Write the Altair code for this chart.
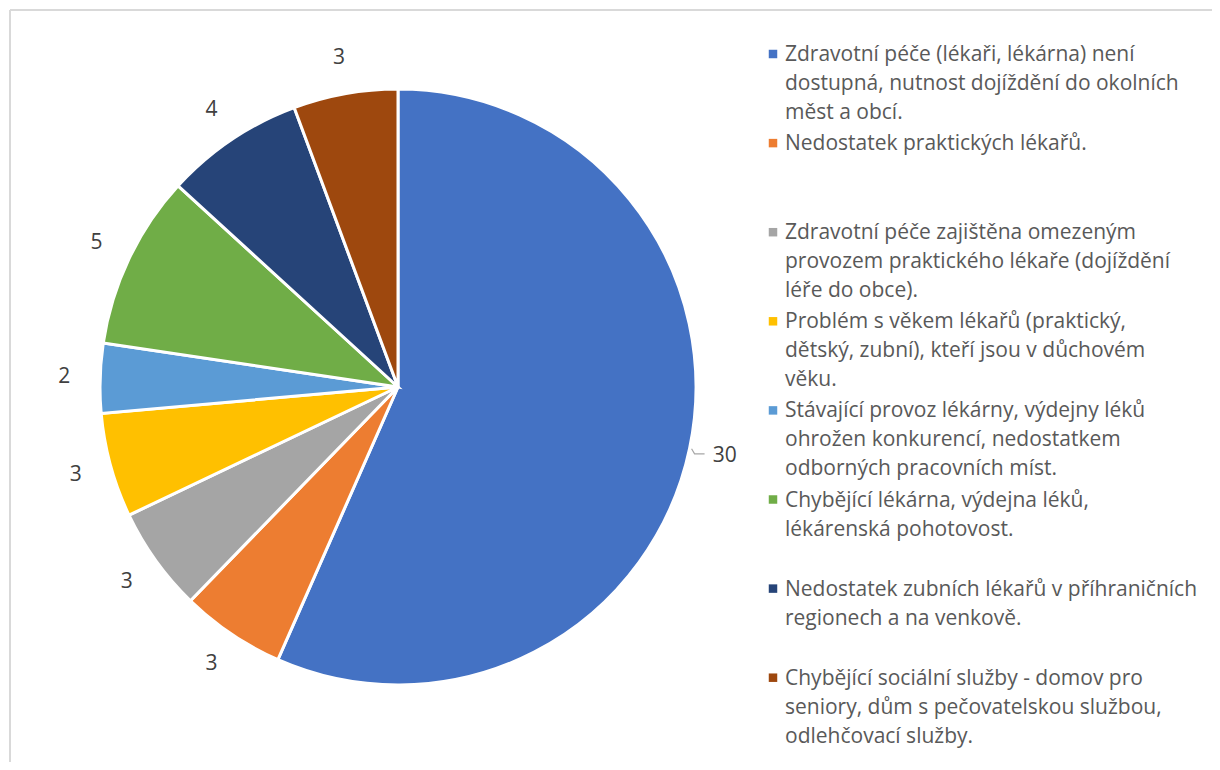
import altair as alt
import pandas as pd
import math

categories = [
    "Zdravotní péče (lékaři, lékárna) není dostupná, nutnost dojíždění do okolních měst a obcí.",
    "Nedostatek praktických lékařů.",
    "Zdravotní péče zajištěna omezeným provozem praktického lékaře (dojíždění léře do obce).",
    "Problém s věkem lékařů (praktický, dětský, zubní), kteří jsou v důchovém věku.",
    "Stávající provoz lékárny, výdejny léků ohrožen konkurencí, nedostatkem odborných pracovních míst.",
    "Chybějící lékárna, výdejna léků, lékárenská pohotovost.",
    "Nedostatek zubních lékařů v příhraničních regionech a na venkově.",
    "Chybějící sociální služby - domov pro seniory, dům s pečovatelskou službou, odlehčovací služby.",
]
values = [30, 3, 3, 3, 2, 5, 4, 3]
legend_lines = [
    ["Zdravotní péče (lékaři, lékárna) není", "dostupná, nutnost dojíždění do okolních", "měst a obcí."],
    ["Nedostatek praktických lékařů."],
    ["Zdravotní péče zajištěna omezeným", "provozem praktického lékaře (dojíždění", "léře do obce)."],
    ["Problém s věkem lékařů (praktický,", "dětský, zubní), kteří jsou v důchovém", "věku."],
    ["Stávající provoz lékárny, výdejny léků", "ohrožen konkurencí, nedostatkem", "odborných pracovních míst."],
    ["Chybějící lékárna, výdejna léků,", "lékárenská pohotovost."],
    ["Nedostatek zubních lékařů v příhraničních", "regionech a na venkově."],
    ["Chybějící sociální služby - domov pro", "seniory, dům s pečovatelskou službou,", "odlehčovací služby."],
]
colors = ["#4472C4", "#ED7D31", "#A5A5A5", "#FFC000", "#5B9BD5", "#70AD47", "#264478", "#9E480E"]

W, H = 1202, 752
FONT = "Open Sans"
FS = 21

pie_df = pd.DataFrame({"cat": categories, "value": values, "order": list(range(len(values)))})

# legend layout (computed)
LEG_TOP = 45
SLOT = 89.1
LINE_H = 29
TEXT_X = 775
SQ_X = 763
rows, squares = [], []
for i, lines in enumerate(legend_lines):
    for j, t in enumerate(lines):
        rows.append({"px": TEXT_X, "py": LEG_TOP + i * SLOT + j * LINE_H, "t": t})
    squares.append({"px": SQ_X, "py": LEG_TOP + i * SLOT - 1, "cat": categories[i]})
leg_df = pd.DataFrame(rows)
sq_df = pd.DataFrame(squares)

color_scale = alt.Scale(domain=categories, range=colors)
xs = alt.Scale(domain=[0, W], range=[0, W])
ys = alt.Scale(domain=[0, H], range=[0, H])

CX, CY, R = 388, 377, 298

# leader line for the largest slice, derived from its mid angle
mid = (values[0] / 2) / sum(values) * 2 * math.pi
p0 = (CX + (R + 2) * math.sin(mid), CY - (R + 2) * math.cos(mid))
lead_df = pd.DataFrame({
    "px": [p0[0], p0[0] + 3, p0[0] + 13],
    "py": [p0[1], p0[1] + 5, p0[1] + 5],
    "k": [0, 1, 2],
})

base = alt.Chart(pie_df).encode(
    theta=alt.Theta("value:Q", stack=True),
    order=alt.Order("order:Q"),
)
pie = base.mark_arc(radius=R, stroke="white", strokeWidth=3).encode(
    color=alt.Color("cat:N", scale=color_scale, legend=None),
    x=alt.value(CX), y=alt.value(CY),
)
labels = base.mark_text(radius=334, font=FONT, fontSize=FS, color="#404040").encode(
    text=alt.Text("value:Q"),
    x=alt.value(CX), y=alt.value(CY),
)
leader = alt.Chart(lead_df).mark_line(color="#A6A6A6", strokeWidth=1.2).encode(
    x=alt.X("px:Q", scale=xs, axis=None),
    y=alt.Y("py:Q", scale=ys, axis=None),
    order="k:Q",
)

leg_text = alt.Chart(leg_df).mark_text(
    align="left", baseline="middle", font=FONT, fontSize=FS, color="#595959"
).encode(
    x=alt.X("px:Q", scale=xs, axis=None),
    y=alt.Y("py:Q", scale=ys, axis=None),
    text="t:N",
)
leg_sq = alt.Chart(sq_df).mark_square(size=72, opacity=1).encode(
    x=alt.X("px:Q", scale=xs, axis=None),
    y=alt.Y("py:Q", scale=ys, axis=None),
    color=alt.Color("cat:N", scale=color_scale, legend=None),
)

border_top = alt.Chart(pie_df).mark_rule(color="#D9D9D9", strokeWidth=1.5).encode(
    x=alt.value(0), x2=alt.value(W + 20), y=alt.value(0)
)
border_left = alt.Chart(pie_df).mark_rule(color="#D9D9D9", strokeWidth=1.5).encode(
    x=alt.value(0), y=alt.value(0), y2=alt.value(H + 20)
)

chart = alt.layer(border_top, border_left, pie, labels, leader, leg_text, leg_sq).properties(
    width=W, height=H,
    padding={"left": 2, "top": 2, "right": 0, "bottom": 0},
    autosize=alt.AutoSizeParams(type="none"),
).configure_view(stroke=None).configure(background="white")

chart.save("out.html", embed_options={"renderer": "svg", "actions": False})
